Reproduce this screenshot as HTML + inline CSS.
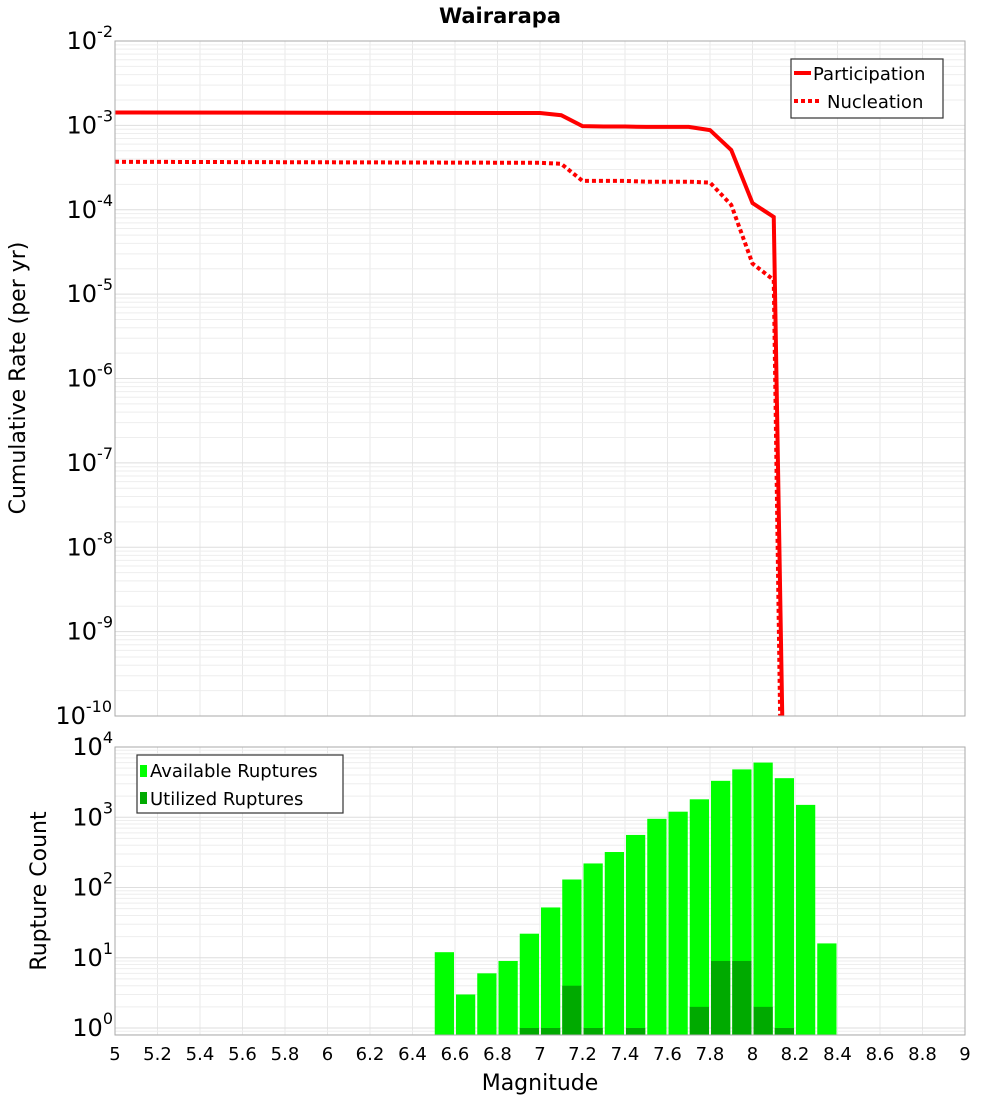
<!DOCTYPE html>
<html><head><meta charset="utf-8"><style>
body{margin:0;background:#fff;font-family:"Liberation Sans","DejaVu Sans",sans-serif}
svg text{font-family:"DejaVu Sans","Liberation Sans",sans-serif}
</style></head><body>
<svg id="c" width="1000" height="1100" xmlns="http://www.w3.org/2000/svg">
<text x="500" y="23" text-anchor="middle" font-size="21" font-weight="bold">Wairarapa</text>
<text transform="translate(25,378) rotate(-90)" text-anchor="middle" font-size="22">Cumulative Rate (per yr)</text>
<text transform="translate(46,891) rotate(-90)" text-anchor="middle" font-size="22">Rupture Count</text>
<text x="540" y="1090" text-anchor="middle" font-size="22">Magnitude</text>
<g id="g"></g>
</svg>
<script>
const magGrid=[5,5.2,5.4,5.6,5.8,6,6.2,6.4,6.6,6.8,7,7.2,7.4,7.6,7.8,8,8.2,8.4,8.6,8.8,9];
const xTickLabels=["5","5.2","5.4","5.6","5.8","6","6.2","6.4","6.6","6.8","7","7.2","7.4","7.6","7.8","8","8.2","8.4","8.6","8.8","9"];
const partMag=[5.0,7.0,7.1,7.2,7.3,7.4,7.5,7.6,7.7,7.8,7.9,8.0,8.1,8.14];
const partRate=[1.42e-3,1.40e-3,1.32e-3,9.8e-4,9.7e-4,9.7e-4,9.6e-4,9.6e-4,9.6e-4,8.8e-4,5.1e-4,1.2e-4,8.2e-5,1e-10];
const nuclMag=[5.0,7.0,7.1,7.2,7.3,7.4,7.5,7.6,7.7,7.8,7.9,8.0,8.1,8.13];
const nuclRate=[3.7e-4,3.6e-4,3.5e-4,2.2e-4,2.2e-4,2.2e-4,2.15e-4,2.15e-4,2.15e-4,2.1e-4,1.14e-4,2.3e-5,1.47e-5,1e-10];
const binMag=[6.55,6.65,6.75,6.85,6.95,7.05,7.15,7.25,7.35,7.45,7.55,7.65,7.75,7.85,7.95,8.05,8.15,8.25,8.35];
const available=[12,3,6,9,22,52,130,220,320,560,950,1200,1800,3300,4800,6000,3600,1500,16];
const utilized=[0,0,0,0,1,1,4,1,0,1,0,0,2,9,9,2,1,0,0];
const topExp=[-2,-3,-4,-5,-6,-7,-8,-9,-10];
const botExp=[4,3,2,1,0];

const NS="http://www.w3.org/2000/svg",g=document.getElementById('g');
function el(t,a,txt){const e=document.createElementNS(NS,t);for(const k in a)e.setAttribute(k,a[k]);if(txt!==undefined)e.textContent=txt;g.appendChild(e);return e;}
const X0=115,X1=965;
const xs=m=>X0+(m-5)/4*(X1-X0);
const T0=41,T1=716; const yt=v=>T0+(-2-Math.log10(v))/8*(T1-T0);
const B0=747,B1=1035,BD=70.25; const yb=v=>1028-Math.log10(v)*BD;

// grids
function grid(y0,y1,minE,maxE,yf){
  for(const m of magGrid){const l=el('line',{x1:xs(m),x2:xs(m),y1:y0,y2:y1,stroke:'#e8e8e8','stroke-width':1});}
  for(let e=minE;e<maxE;e++)for(let k=1;k<10;k++){const y=yf(k*Math.pow(10,e));if(y<y0-0.5||y>y1+0.5)continue;const l=el('line',{x1:X0,x2:X1,y1:y,y2:y,stroke:k==1?'#dedede':'#eeeeee','stroke-width':1});}
}
grid(T0,T1,-10,-2,yt);
grid(B0,B1,-1,4,yb);

// top lines
function line(ms,rs,dash,name){const p=ms.map((m,i)=>xs(m)+','+Math.max(yt(rs[i]),0).toFixed(1)).join(' ');const l=el('polyline',{points:p,fill:'none',stroke:'#ff0000','stroke-width':4,'stroke-dasharray':dash});}
el('clipPath',{id:'cp'}).appendChild(document.createElementNS(NS,'rect')).setAttribute('x',X0);
const cr=document.querySelector('#cp rect');cr.setAttribute('y',T0);cr.setAttribute('width',X1-X0);cr.setAttribute('height',T1-T0);
line(nuclMag,nuclRate,'4,3','nucleation-line');
line(partMag,partRate,'none','participation-line');

// bars
binMag.forEach((m,i)=>{const x=xs(m-0.05)+1,w=xs(m+0.05)-xs(m-0.05)-2;
 const r=el('rect',{x:x,y:yb(available[i]),width:w,height:B1-yb(available[i]),fill:'#00ff00'});
 if(utilized[i]>0){const u=el('rect',{x:x,y:yb(utilized[i]),width:w,height:B1-yb(utilized[i]),fill:'#00aa00'});}
});

// frames
const f1=el('rect',{x:X0,y:T0,width:X1-X0,height:T1-T0,fill:'none',stroke:'#aaa'});
const f2=el('rect',{x:X0,y:B0,width:X1-X0,height:B1-B0,fill:'none',stroke:'#aaa'});

// y tick labels
function expLabel(x,y,e,name){const t=el('text',{x:x,y:y,'font-size':24,'text-anchor':'end'});
 const a=document.createElementNS(NS,'tspan');a.textContent='10';t.appendChild(a);
 const b=document.createElementNS(NS,'tspan');b.setAttribute('dy','-12');b.setAttribute('font-size','16');b.textContent=String(e);t.appendChild(b);}
topExp.forEach(e=>{const y=yt(Math.pow(10,e));expLabel(e<=-10?112:113,y+8,e,'top-y-tick-label');});
botExp.forEach(e=>{expLabel(e<10?113:113,yb(Math.pow(10,e))+8,e,'bottom-y-tick-label');});
// x tick labels
magGrid.forEach((m,i)=>{const t=el('text',{x:xs(m),y:1060,'font-size':18,'text-anchor':'middle'},xTickLabels[i]);});

// legends
function legendBox(x,y,w,h,name){const r=el('rect',{x:x,y:y,width:w,height:h,fill:'#fff',stroke:'#333','stroke-width':1.2});}
legendBox(791,59,152,59,'top-legend');
let l=el('line',{x1:794,x2:811,y1:73,y2:73,stroke:'#f00','stroke-width':4});
let t=el('text',{x:813,y:80,'font-size':18},'Participation');
l=el('line',{x1:794,x2:822,y1:101,y2:101,stroke:'#f00','stroke-width':4,'stroke-dasharray':'4,3'});
t=el('text',{x:827,y:108,'font-size':18},'Nucleation');
legendBox(137,755,206,58,'bottom-legend');
let s=el('rect',{x:140,y:765,width:7,height:12,fill:'#00ff00'});
t=el('text',{x:150,y:777,'font-size':18},'Available Ruptures');
s=el('rect',{x:140,y:792,width:7,height:12,fill:'#00aa00'});
t=el('text',{x:150,y:805,'font-size':18},'Utilized Ruptures');
</script>
</body></html>
